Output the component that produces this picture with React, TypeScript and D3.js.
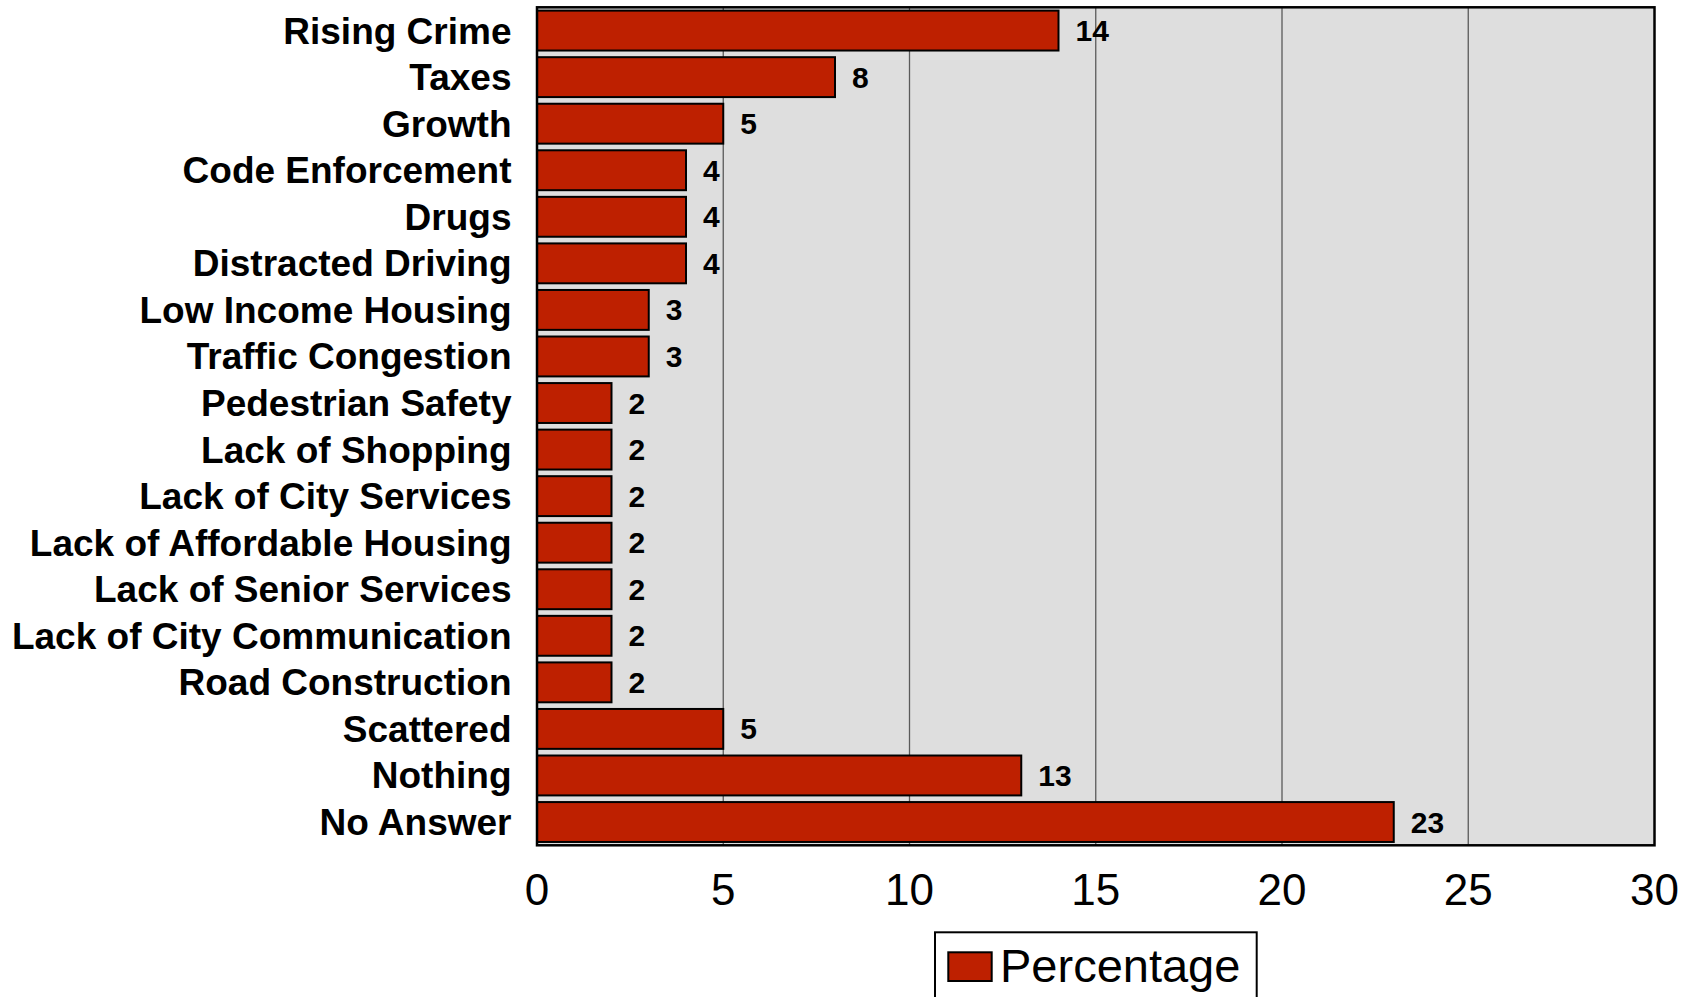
import React from "react";
import * as d3 from "d3";

const categories = [
  "Rising Crime", "Taxes", "Growth", "Code Enforcement", "Drugs", "Distracted Driving",
  "Low Income Housing", "Traffic Congestion", "Pedestrian Safety", "Lack of Shopping",
  "Lack of City Services", "Lack of Affordable Housing", "Lack of Senior Services",
  "Lack of City Communication", "Road Construction", "Scattered", "Nothing", "No Answer",
];
const values = [14, 8, 5, 4, 4, 4, 3, 3, 2, 2, 2, 2, 2, 2, 2, 5, 13, 23];
const xTicks = [0, 5, 10, 15, 20, 25, 30];
const seriesName = "Percentage";

const W = 1694, H = 997;
const left = 537, right = 1654.5, top = 7.3, bottom = 845.3;
const font = "'Liberation Sans', Arial, sans-serif";
const barColor = "#be2000";

export default function App() {
  const x = d3.scaleLinear().domain([0, 30]).range([left, right]);
  const y = d3.scaleBand<string>().domain(categories).range([top, bottom]).paddingInner(0.143).paddingOuter(0.0715);
  return (
    <svg width={W} height={H} style={{ position: "absolute", left: 0, top: 0, background: "#fff" }} fontFamily={font}>
      <rect x={left} y={top} width={right - left} height={bottom - top} fill="#dedede" />
      {xTicks.slice(1, -1).map((t) => (
        <line key={t} x1={x(t)} x2={x(t)} y1={top} y2={bottom} stroke="#5a5a5a" strokeWidth={1.3} />
      ))}
      {categories.map((c, i) => (
        <g key={c}>
          <rect x={x(0)} y={y(c)!} width={x(values[i]) - x(0)} height={y.bandwidth()} fill={barColor} stroke="#000" strokeWidth={2} />
          <text x={x(values[i]) + 17} y={y(c)! + y.bandwidth() / 2 + 10.5} fontSize={30} fontWeight="bold" fill="#000">{values[i]}</text>
          <text x={511.5} y={y(c)! + y.bandwidth() / 2 + 13} fontSize={37} fontWeight="bold" textAnchor="end" fill="#000">{c}</text>
        </g>
      ))}
      <rect x={left} y={top} width={right - left} height={bottom - top} fill="none" stroke="#000" strokeWidth={2.5} />
      {xTicks.map((t) => (
        <text key={t} x={x(t)} y={905} fontSize={44} textAnchor="middle" fill="#000">{t}</text>
      ))}
      <rect x={935} y={932.3} width={321.7} height={80} fill="#fff" stroke="#000" strokeWidth={2} />
      <rect x={948.3} y={952.3} width={43.4} height={28.7} fill={barColor} stroke="#000" strokeWidth={2} />
      <text x={1000} y={982} fontSize={47} fill="#000">{seriesName}</text>
    </svg>
  );
}
